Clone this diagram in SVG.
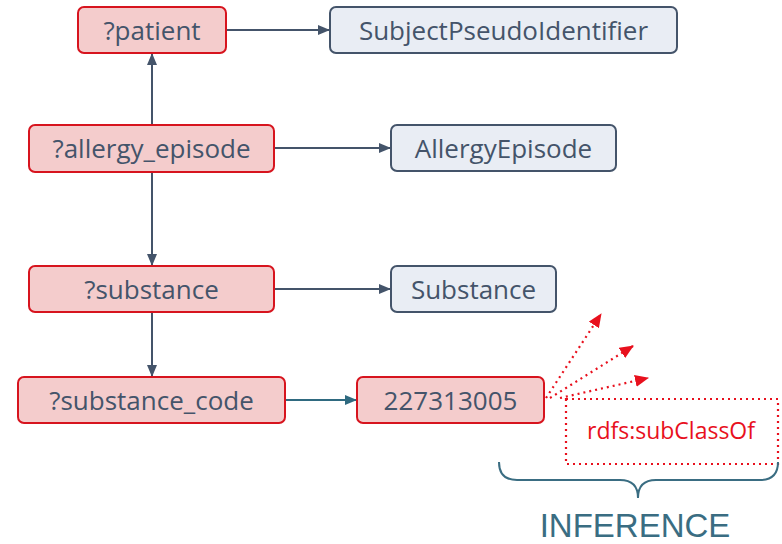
<svg xmlns="http://www.w3.org/2000/svg" width="782" height="544" viewBox="0 0 782 544">
<style>
.var rect{fill:#f4cccc;stroke:#d7141e;stroke-width:2}
.cls rect{fill:#e9edf4;stroke:#44546a;stroke-width:2}
.node text{font-family:"Open Sans","Noto Sans",sans-serif;font-size:26px;fill:#44546a;text-anchor:middle}
.edge{stroke:#44546a;stroke-width:2;fill:none}
.dot{stroke:#e8101d;stroke-width:2.2;fill:none;stroke-dasharray:2 4}
</style>
<defs>
<marker id="ah" markerWidth="12" markerHeight="10" refX="11" refY="5" orient="auto" markerUnits="userSpaceOnUse"><path d="M0,0 L12,5 L0,10 Z" fill="#44546a"/></marker>
<marker id="aht" markerWidth="12" markerHeight="10" refX="11" refY="5" orient="auto" markerUnits="userSpaceOnUse"><path d="M0,0 L12,5 L0,10 Z" fill="#2f6a80"/></marker>
<marker id="ahr" markerWidth="14" markerHeight="12" refX="13" refY="6" orient="auto" markerUnits="userSpaceOnUse"><path d="M0,0 L14,6 L0,12 Z" fill="#e8101d"/></marker>
</defs>
<g id="connectors">
<line class="edge" x1="226" y1="30" x2="329" y2="30" marker-end="url(#ah)"/>
<line class="edge" x1="152" y1="125" x2="152" y2="54" marker-end="url(#ah)"/>
<line class="edge" x1="274" y1="148" x2="390" y2="148" marker-end="url(#ah)"/>
<line class="edge" x1="152" y1="172" x2="152" y2="265" marker-end="url(#ah)"/>
<line class="edge" x1="274" y1="289" x2="390" y2="289" marker-end="url(#ah)"/>
<line class="edge" x1="152" y1="312" x2="152" y2="376" marker-end="url(#ah)"/>
<line x1="285" y1="400" x2="356" y2="400" stroke="#2f6a80" stroke-width="2" marker-end="url(#aht)"/>
<line class="dot" x1="546" y1="398" x2="601" y2="314" marker-end="url(#ahr)"/>
<line class="dot" x1="550" y1="398" x2="633" y2="346" marker-end="url(#ahr)"/>
<line class="dot" x1="560" y1="398" x2="648" y2="378" marker-end="url(#ahr)"/>
</g>
<g id="patient" class="node var"><rect x="78" y="7" width="148" height="46" rx="6"/><text x="152" y="40">?patient</text></g>
<g id="subjectPseudoIdentifier" class="node cls"><rect x="330" y="7" width="347" height="46" rx="6"/><text x="503.5" y="40">SubjectPseudoIdentifier</text></g>
<g id="allergy_episode" class="node var"><rect x="29" y="125" width="245" height="47" rx="6"/><text x="151.5" y="158">?allergy_episode</text></g>
<g id="allergyEpisode" class="node cls"><rect x="391" y="125" width="225" height="46" rx="6"/><text x="503.5" y="158">AllergyEpisode</text></g>
<g id="substance" class="node var"><rect x="29" y="266" width="245" height="46" rx="6"/><text x="151.5" y="299">?substance</text></g>
<g id="substanceClass" class="node cls"><rect x="391" y="266" width="165" height="46" rx="6"/><text x="473.5" y="299">Substance</text></g>
<g id="substance_code" class="node var"><rect x="18" y="377" width="267" height="46" rx="6"/><text x="151.5" y="410">?substance_code</text></g>
<g id="code227313005" class="node var"><rect x="357" y="377" width="187" height="46" rx="6"/><text x="450.5" y="410">227313005</text></g>
<g id="subClassOf">
<rect x="566" y="399" width="212" height="65" fill="none" class="dot"/>
<text x="671" y="439" font-family="Open Sans, Noto Sans, sans-serif" font-size="23" fill="#e8101d" text-anchor="middle">rdfs:subClassOf</text>
</g>
<g id="inference">
<path d="M499,462 Q499,480 517,480 L620,480 Q638,480 638,498 Q638,480 656,480 L760,480 Q778,480 778,462" fill="none" stroke="#3a6d82" stroke-width="2"/>
<text x="635" y="537" font-family="Liberation Sans, Arial, sans-serif" font-size="33" fill="#3a6d82" text-anchor="middle">INFERENCE</text>
</g>
</svg>
